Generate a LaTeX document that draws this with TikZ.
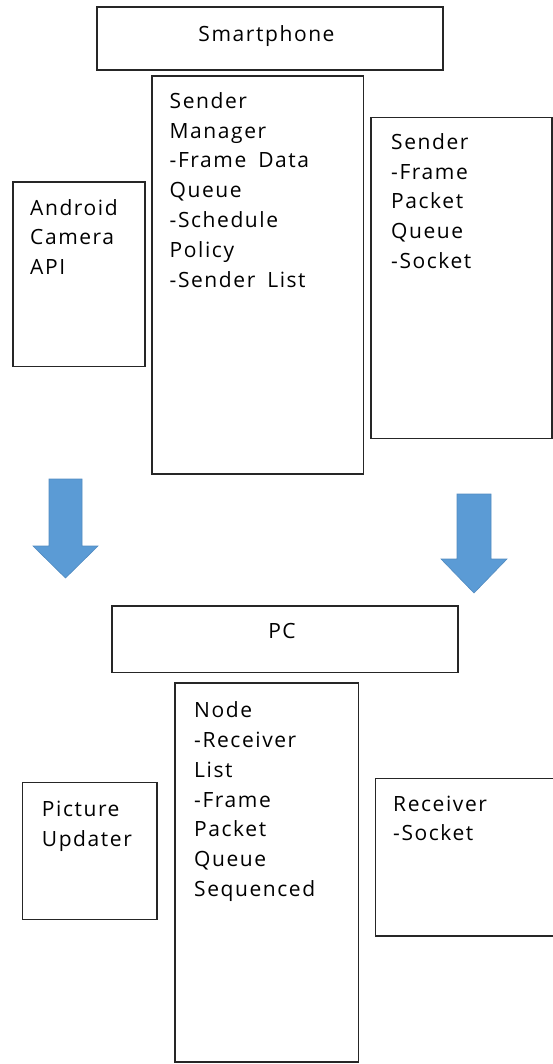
\documentclass[tikz,border=0pt]{standalone}
\usepackage{fontspec}
\setmainfont[LetterSpace=7.5,WordSpace=1.7]{Open Sans}
\begin{document}
\begin{tikzpicture}[x=1bp,y=-1bp,
  box/.style={draw=black!85,line width=1.6bp},
  txt/.style={anchor=base west,inner sep=0pt,align=left,font=\fontsize{21bp}{29.8bp}\selectfont},
  ctxt/.style={anchor=base,inner sep=0pt,font=\fontsize{21bp}{29.8bp}\selectfont},
  bigarrow/.style={fill=arrowblue,draw=arrowblue!90!black,line width=0.6bp,line join=miter}]
\definecolor{arrowblue}{HTML}{5B9BD5}
\useasboundingbox (0,0) rectangle (553,1064);
% Smartphone side (text anchors are at the baseline of the last line)
\draw[box] (97,7) rectangle (443,70);
\node[ctxt] (smart) at (266.5,41) {Smartphone};
\draw[box] (152,76) rectangle (363.5,474);
\node[txt] (sendmgr) at (169.5,287.1) {Sender\\Manager\\-Frame Data\\Queue\\-Schedule\\Policy\\-Sender List};
\draw[box] (13,182) rectangle (145,366.5);
\node[txt] (android) at (30,274.6) {Android\\Camera\\API};
\draw[box] (371,117.3) rectangle (551.7,438.3);
\node[txt] (sender) at (391,268.5) {Sender\\-Frame\\Packet\\Queue\\-Socket};
% arrows
\path[bigarrow] (49,479) -- (82,479) -- (82,546) -- (98,546) -- (65.5,578) -- (33,546) -- (49,546) -- cycle;
\path[bigarrow] (457,494) -- (491,494) -- (491,559) -- (507,559) -- (474,593) -- (441,559) -- (457,559) -- cycle;
% PC side
\draw[box] (112,606) rectangle (458,672.5);
\node[ctxt] (pc) at (282,638) {PC};
\draw[box] (175,683) rectangle (358.5,1062);
\node[txt] (nodebox) at (194,896.5) {Node\\-Receiver\\List\\-Frame\\Packet\\Queue\\Sequenced};
\draw[box] (22.3,782.3) rectangle (156.7,919.3);
\node[txt] (picture) at (41.7,846.5) {Picture\\Updater};
\draw[box] (375.3,778.3) rectangle (600,936);
\node[txt] (receiver) at (393,840.8) {Receiver\\-Socket};
\end{tikzpicture}
\end{document}
